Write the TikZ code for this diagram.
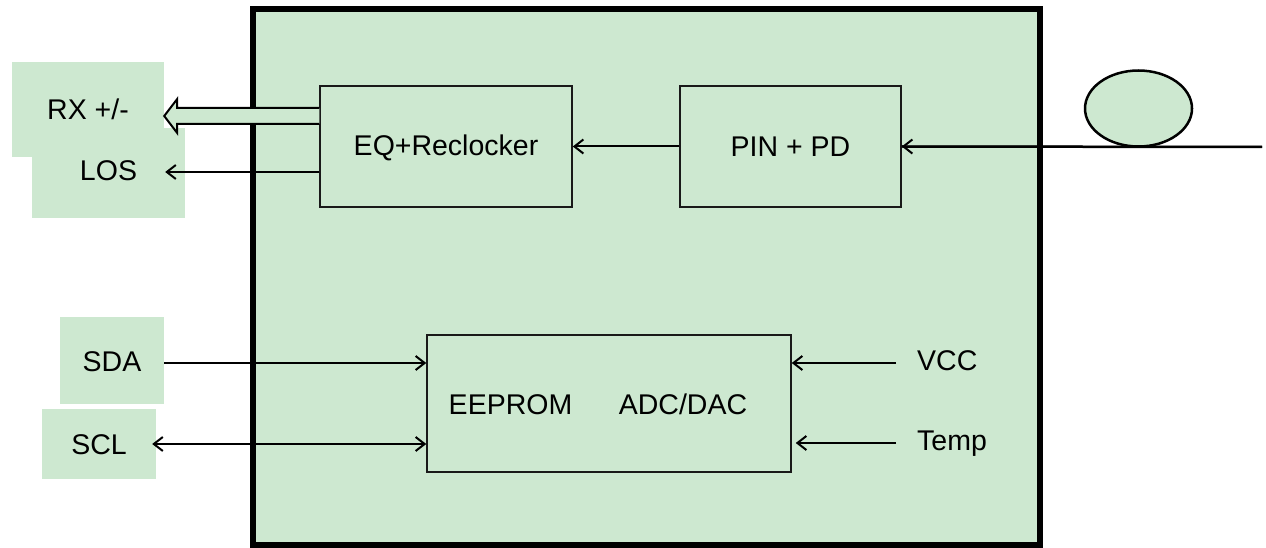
\documentclass[tikz,border=0pt]{standalone}
\usepackage{fontspec}
\setmainfont{Liberation Sans}
\usetikzlibrary{arrows.meta,shapes.geometric,calc}
\definecolor{boxgreen}{RGB}{205,232,208}
\begin{document}
\begin{tikzpicture}[x=1pt,y=-1pt,
  every node/.style={font=\fontsize{28.5}{34}\selectfont},
  padbox/.style={rectangle,fill=boxgreen,draw=none,inner sep=0},
  blockbox/.style={rectangle,fill=boxgreen,draw=black!90,line width=1.5,inner sep=0},
  lbl/.style={inner sep=0,anchor=base},
  lblw/.style={inner sep=0,anchor=base west},
  arr/.style={line width=2,-{Straight Barb[length=9,width=14,line width=2]}},
  darr/.style={line width=2,{Straight Barb[length=9,width=14,line width=2]}-{Straight Barb[length=9,width=14,line width=2]}}]
\useasboundingbox (0,0) rectangle (1266,548);

% main module
\node[rectangle,fill=boxgreen,draw=black,line width=6,minimum width=787,minimum height=536,inner sep=0] (main) at (646.5,277) {};

% outside pads
\node[padbox,minimum width=153,minimum height=90] (losbox) at (108.5,173) {};
\node[padbox,minimum width=152,minimum height=95] (rxbox) at (88,109.5) {};
\node[padbox,minimum width=104,minimum height=87] (sdabox) at (112,360.5) {};
\node[padbox,minimum width=114,minimum height=70] (sclbox) at (99,444) {};
\node[lbl] (rxt) at (88,120) {RX +/-};
\node[lbl] (lost) at (108.5,181) {LOS};
\node[lbl] (sdat) at (112,371) {SDA};
\node[lbl] (sclt) at (99,454) {SCL};

% inner blocks
\node[blockbox,minimum width=252,minimum height=121] (eq) at (446,146.5) {};
\node[blockbox,minimum width=221,minimum height=121] (pin) at (790.5,146.5) {};
\node[blockbox,minimum width=364,minimum height=137] (ee) at (609,403.5) {};
\node[lbl] (eqt) at (446,156) {EQ+Reclocker};
\node[lbl] (pint) at (790.5,157) {PIN + PD};
\node[lbl] (eept) at (510.5,414) {EEPROM};
\node[lbl] (adct) at (683,414) {ADC/DAC};
\node[lblw] (vcct) at (917,370) {VCC};
\node[lblw] (tempt) at (917,450) {Temp};

% fiber
\node[ellipse,fill=boxgreen,draw=black,line width=2.5,minimum width=107,minimum height=76,inner sep=0] (fiber) at (1138.5,108.5) {};
\coordinate (fiberend) at (1262,147);
\coordinate (yRXt) at (0,108);
\coordinate (yRX) at (0,116);
\coordinate (yRXb) at (0,124);
\coordinate (yLOS) at (0,172);
\coordinate (ySDA) at (0,363);
\coordinate (ySCL) at (0,444);
\coordinate (vcctail) at (896,363);
\coordinate (temptail) at (896,443);

% connectors
\draw[line width=2.5] (fiberend) -- (pin.east);
\draw[arr] (fiberend) -- (pin.east);
\draw[arr] (pin.west) -- (eq.east);
\draw[line width=2,fill=boxgreen,line join=miter]
  (eq.west |- yRXt) -- ($(rxbox.east |- yRXt)+(13,0)$) -- ($(rxbox.east |- yRX)+(13,-17)$)
  -- (rxbox.east |- yRX) -- ($(rxbox.east |- yRX)+(13,17)$) -- ($(rxbox.east |- yRXb)+(13,0)$)
  -- (eq.west |- yRXb);
\draw[arr] (eq.west |- yLOS) -- ($(rxbox.east |- yLOS)+(1,0)$);
\draw[arr] (sdabox.east |- ySDA) -- (ee.west |- ySDA);
\draw[darr] ($(sclbox.east |- ySCL)+(-4,0)$) -- (ee.west |- ySCL);
\draw[arr] (vcctail) -- (ee.east |- vcctail);
\draw[arr,shorten >=4] (temptail) -- (ee.east |- temptail);
\end{tikzpicture}
\end{document}
